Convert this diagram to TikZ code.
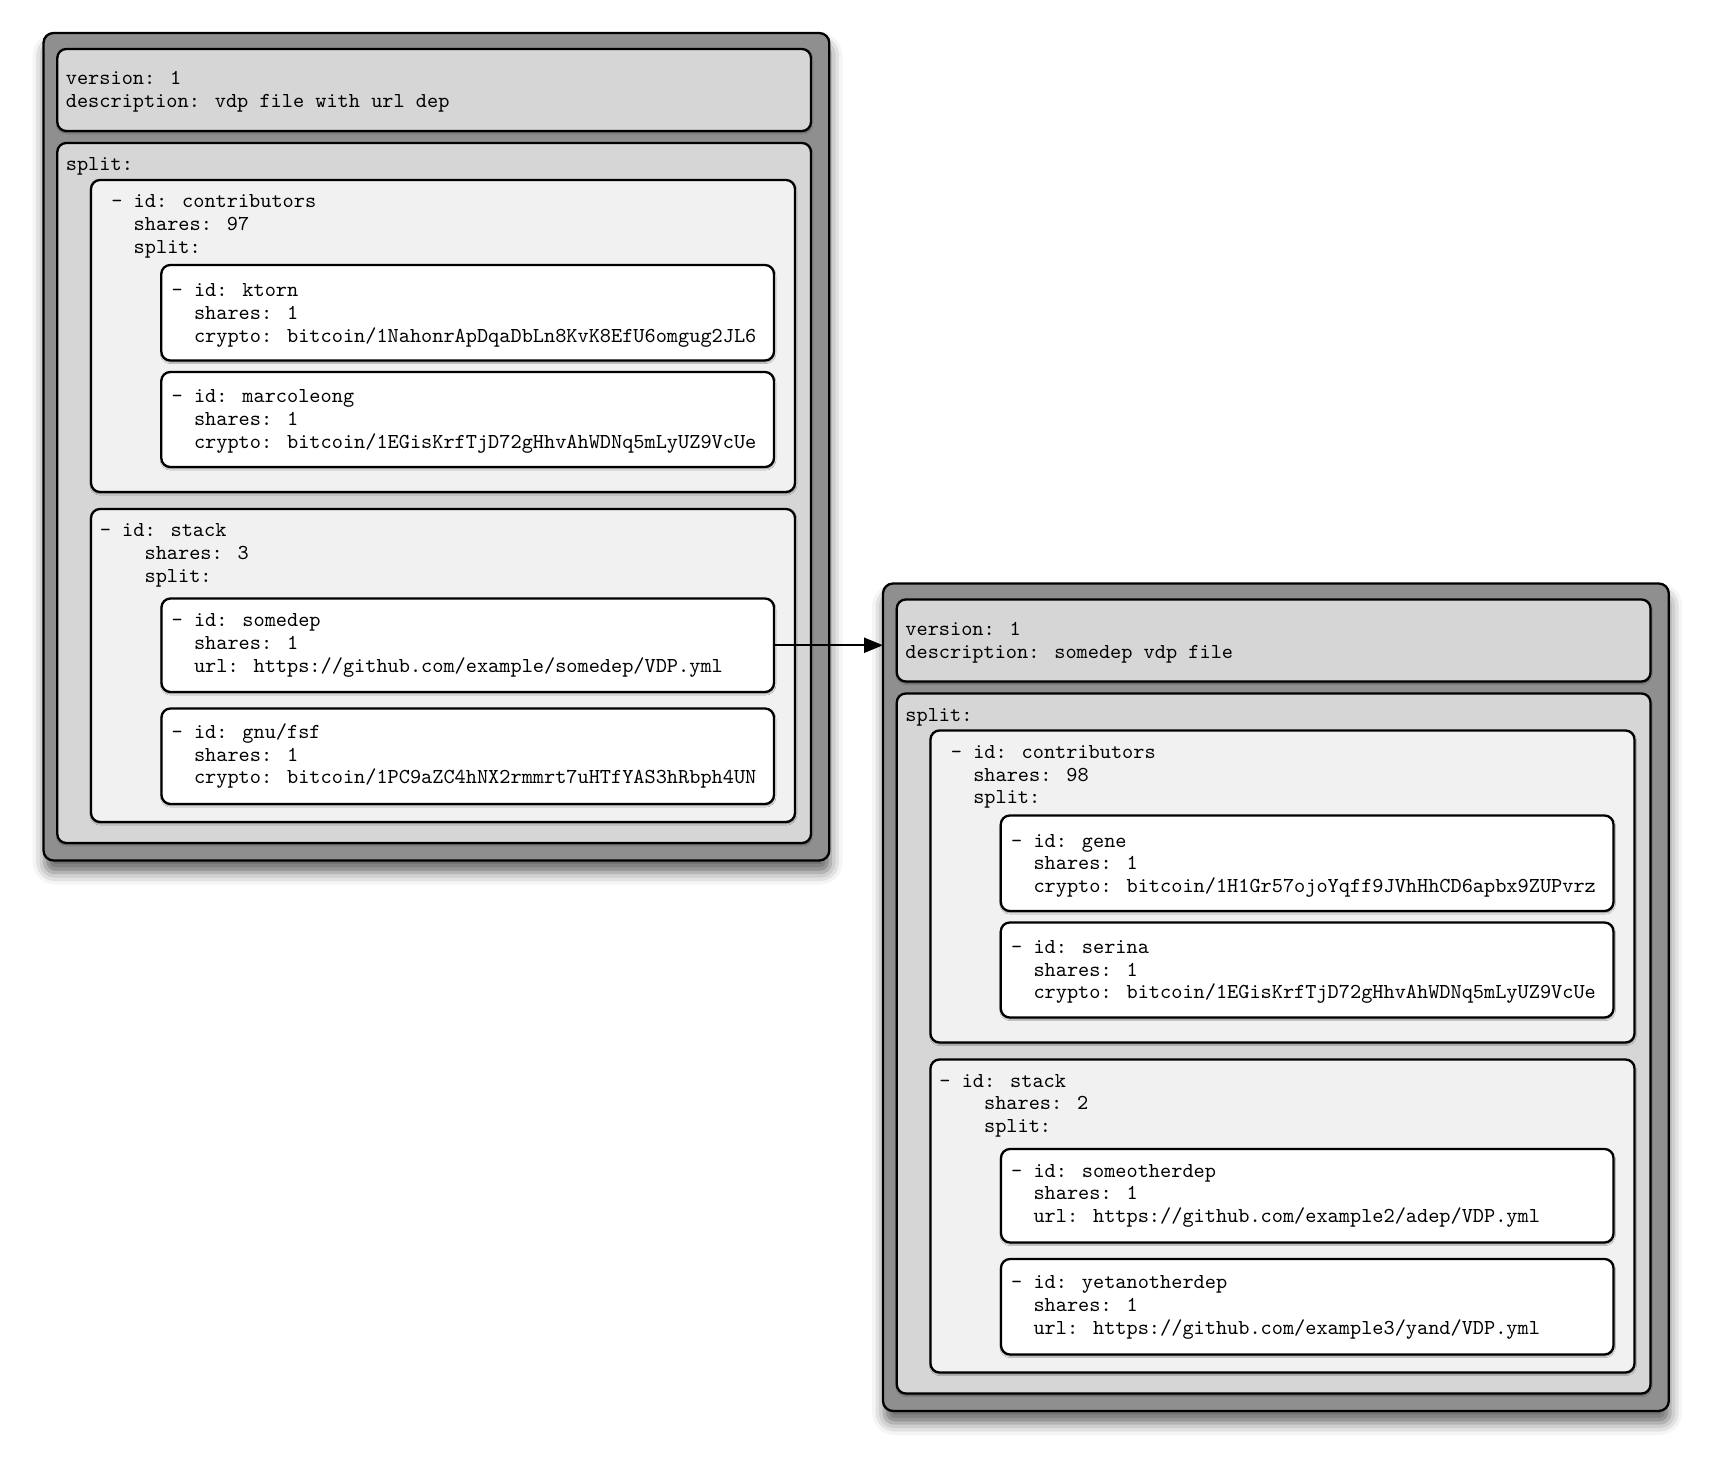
\documentclass[tikz,border=0pt]{standalone}
\usepackage{fontspec}
\usetikzlibrary{arrows.meta,shadows.blur}

\def\u{.5pt}
% stacked lines, first line on the base
\newcommand\ymlrows[1]{\begin{tabular}[t]{@{}l@{}}#1\end{tabular}}
\definecolor{filegray}{gray}{0.56}
\definecolor{blockgray}{gray}{0.84}
\definecolor{entrygray}{gray}{0.945}
\tikzstyle{box}=[draw=black,line width=1.15pt,rounded corners=4.5pt,anchor=north west,inner sep=0pt,outer sep=0pt]
\tikzstyle{filebox}=[box,fill=filegray,rounded corners=5pt,blur shadow={shadow xshift=0.6pt,shadow yshift=-6pt,shadow blur radius=6pt,shadow opacity=60}]
\tikzstyle{blockbox}=[box,fill=blockgray,blur shadow={shadow xshift=0.2pt,shadow yshift=-0.8pt,shadow blur radius=0.8pt,shadow opacity=45}]
\tikzstyle{groupbox}=[blockbox,fill=entrygray]
\tikzstyle{leafbox}=[blockbox,fill=white]
\tikzstyle{ymltext}=[anchor=base west,inner sep=0pt,font=\fontsize{10.64}{11.35}\selectfont\ttfamily]
\tikzstyle{deplink}=[line width=1.1pt,-{Triangle[length=9.5pt,width=7.5pt]}]

\begin{document}
\begin{tikzpicture}[x=\u,y=-\u]
\useasboundingbox (0,0) rectangle (1710,1460);

% vdp file with url dep
\node[filebox,minimum width=785.8*\u,minimum height=827.5*\u](lfile) at (43.5,33){};
\node[blockbox,minimum width=753.7*\u,minimum height=82*\u](lhead) at (57.3,49){};
\node[blockbox,minimum width=753.7*\u,minimum height=700*\u](lsplit) at (57.3,143){};
\node[groupbox,minimum width=704*\u,minimum height=312*\u](lcontrib) at (91,180){};
\node[leafbox,minimum width=612.7*\u,minimum height=95.5*\u](lktorn) at (161.3,265){};
\node[leafbox,minimum width=612.7*\u,minimum height=95*\u](lmarco) at (161.3,372){};
\node[groupbox,minimum width=704*\u,minimum height=313*\u](lstack) at (91,509){};
\node[leafbox,minimum width=612.5*\u,minimum height=93.5*\u](lsomedep) at (161.5,598.5){};
\node[leafbox,minimum width=612.5*\u,minimum height=95.5*\u](lgnu) at (161.5,708.5){};

\node[ymltext](lheadtxt) at (65.5,85){\ymlrows{version: 1\\description: vdp file with url dep}};
\node[ymltext](lsplittxt) at (65.5,170.5){split:};
\node[ymltext](lcontribtxt) at (111,208){\ymlrows{- id: contributors\\\phantom{- }shares: 97\\\phantom{- }split:}};
\node[ymltext](lktorntxt) at (171.3,296.7){\ymlrows{- id: ktorn\\\phantom{- }shares: 1\\\phantom{- }crypto: bitcoin/1NahonrApDqaDbLn8KvK8EfU6omgug2JL6}};
\node[ymltext](lmarcotxt) at (171.3,403){\ymlrows{- id: marcoleong\\\phantom{- }shares: 1\\\phantom{- }crypto: bitcoin/1EGisKrfTjD72gHhvAhWDNq5mLyUZ9VcUe}};
\node[ymltext](lstacktxt) at (99.5,536.7){\ymlrows{- id: stack\\\phantom{- id}shares: 3\\\phantom{- id}split:}};
\node[ymltext](lsomedeptxt) at (171.3,626.7){\ymlrows{- id: somedep\\\phantom{- }shares: 1\\\phantom{- }url: https://github.com/example/somedep/VDP.yml}};
\node[ymltext](lgnutxt) at (171.3,738.3){\ymlrows{- id: gnu/fsf\\\phantom{- }shares: 1\\\phantom{- }crypto: bitcoin/1PC9aZC4hNX2rmmrt7uHTfYAS3hRbph4UN}};

% somedep vdp file
\begin{scope}[shift={(839.5,550.5)}]
\node[filebox,minimum width=785.8*\u,minimum height=827.5*\u](rfile) at (43.5,33){};
\node[blockbox,minimum width=753.7*\u,minimum height=82*\u](rhead) at (57.3,49){};
\node[blockbox,minimum width=753.7*\u,minimum height=700*\u](rsplit) at (57.3,143){};
\node[groupbox,minimum width=704*\u,minimum height=312*\u](rcontrib) at (91,180){};
\node[leafbox,minimum width=612.7*\u,minimum height=95.5*\u](rgene) at (161.3,265){};
\node[leafbox,minimum width=612.7*\u,minimum height=95*\u](rserina) at (161.3,372){};
\node[groupbox,minimum width=704*\u,minimum height=313*\u](rstack) at (91,509){};
\node[leafbox,minimum width=612.5*\u,minimum height=93.5*\u](rother) at (161.5,598.5){};
\node[leafbox,minimum width=612.5*\u,minimum height=95.5*\u](ryet) at (161.5,708.5){};

\node[ymltext](rheadtxt) at (65.5,85){\ymlrows{version: 1\\description: somedep vdp file}};
\node[ymltext](rsplittxt) at (65.5,170.5){split:};
\node[ymltext](rcontribtxt) at (111,208){\ymlrows{- id: contributors\\\phantom{- }shares: 98\\\phantom{- }split:}};
\node[ymltext](rgenetxt) at (171.3,296.7){\ymlrows{- id: gene\\\phantom{- }shares: 1\\\phantom{- }crypto: bitcoin/1H1Gr57ojoYqff9JVhHhCD6apbx9ZUPvrz}};
\node[ymltext](rserinatxt) at (171.3,403){\ymlrows{- id: serina\\\phantom{- }shares: 1\\\phantom{- }crypto: bitcoin/1EGisKrfTjD72gHhvAhWDNq5mLyUZ9VcUe}};
\node[ymltext](rstacktxt) at (99.5,536.7){\ymlrows{- id: stack\\\phantom{- id}shares: 2\\\phantom{- id}split:}};
\node[ymltext](rothertxt) at (171.3,626.7){\ymlrows{- id: someotherdep\\\phantom{- }shares: 1\\\phantom{- }url: https://github.com/example2/adep/VDP.yml}};
\node[ymltext](ryettxt) at (171.3,738.3){\ymlrows{- id: yetanotherdep\\\phantom{- }shares: 1\\\phantom{- }url: https://github.com/example3/yand/VDP.yml}};
\end{scope}

\draw[deplink](lsomedep.east)--(lsomedep.east -| rfile.west);
\end{tikzpicture}
\end{document}
